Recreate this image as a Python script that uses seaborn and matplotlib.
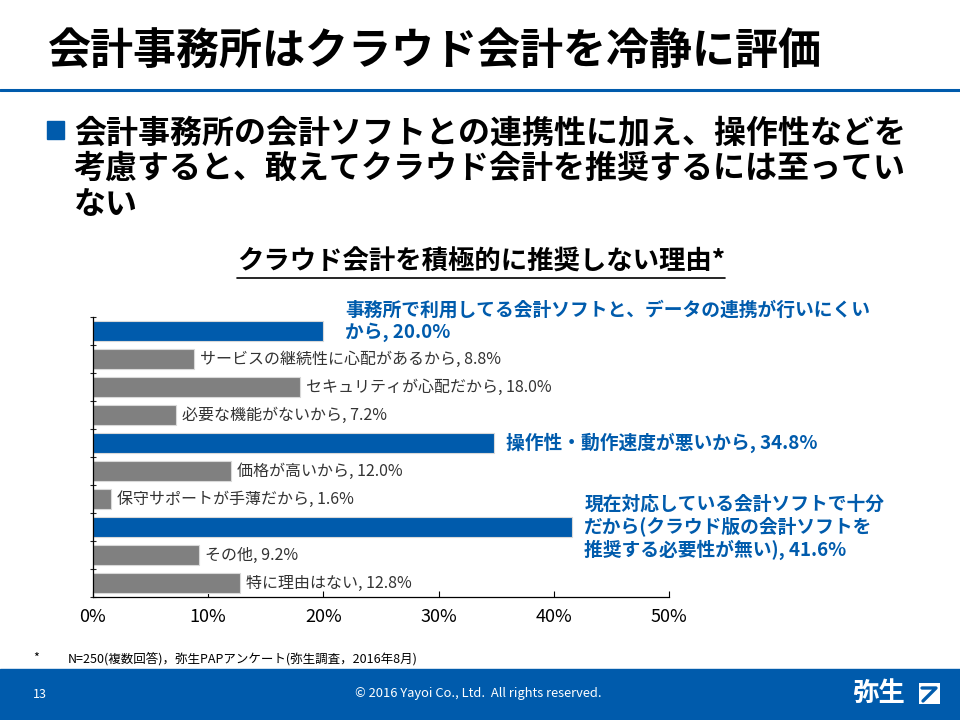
import matplotlib
matplotlib.use("Agg")
import matplotlib.pyplot as plt
from matplotlib.patches import Rectangle
from matplotlib.lines import Line2D
import seaborn as sns
import pandas as pd
import numpy as np

sns.set_theme(style="white")
plt.rcParams['font.family'] = ['Noto Sans CJK JP', 'DejaVu Sans']

BLUE = "#005BAC"
GRAY = "#808080"

title = "会計事務所はクラウド会計を冷静に評価"
bullet_lines = ["会計事務所の会計ソフトとの連携性に加え、操作性などを",
                "考慮すると、敢えてクラウド会計を推奨するには至ってい",
                "ない"]
chart_title = "クラウド会計を積極的に推奨しない理由*"

reasons = [
    "事務所で利用してる会計ソフトと、データの連携が行いにくい\nから",
    "サービスの継続性に心配があるから",
    "セキュリティが心配だから",
    "必要な機能がないから",
    "操作性・動作速度が悪いから",
    "価格が高いから",
    "保守サポートが手薄だから",
    "現在対応している会計ソフトで十分\nだから(クラウド版の会計ソフトを\n推奨する必要性が無い)",
    "その他",
    "特に理由はない",
]
values = [20.0, 8.8, 18.0, 7.2, 34.8, 12.0, 1.6, 41.6, 9.2, 12.8]
highlight = [True, False, False, False, True, False, False, True, False, False]
xticks = [0, 10, 20, 30, 40, 50]

footnote = "N=250(複数回答)，弥生PAPアンケート(弥生調査，2016年8月)"
page_no = "13"
copyright_text = "© 2016 Yayoi Co., Ltd.  All rights reserved."
logo_text = "弥生"

df = pd.DataFrame({
    "reason": reasons,
    "pct": values,
    "group": ["hl" if h else "norm" for h in highlight],
})

fig = plt.figure(figsize=(9.6, 7.2), dpi=100)
fig.patch.set_facecolor("white")

# header
fig.text(48/960, 1 - 52/720, title, fontsize=31, fontweight="bold",
         color="black", va="center", ha="left")
fig.add_artist(Line2D([0, 1], [1 - 90/720, 1 - 90/720], color=BLUE, lw=2.2,
                      transform=fig.transFigure))

# bullet
fig.add_artist(Rectangle((47/960, 1 - 139/720), 17/960, 18/720, color=BLUE,
                         transform=fig.transFigure))
for i, line in enumerate(bullet_lines):
    fig.text(74/960, 1 - (133 + i*36)/720, line, fontsize=23, fontweight="bold",
             color="black", va="center", ha="left")

# chart title
ct = fig.text(481/960, 1 - 262/720, chart_title, fontsize=19, fontweight="bold",
              color="black", va="center", ha="center")

# axes
ax = fig.add_axes([93/960, 1 - 597/720, (669 - 93)/960, (597 - 317)/720])
sns.barplot(data=df, y="reason", x="pct", hue="group",
            palette={"hl": BLUE, "norm": GRAY}, dodge=False, legend=False,
            width=0.7, orient="h", ax=ax, edgecolor="#d9d9d9", linewidth=0.8,
            saturation=1)
ax.set_xlim(0, 50)
ax.set_ylim(9.5, -0.5)
ax.set_xticks(xticks)
ax.set_xticklabels([f"{t}%" for t in xticks], fontsize=13)
ax.set_yticks([])
ax.set_yticks(np.arange(-0.5, 10, 1), minor=True)
ax.tick_params(axis="y", which="minor", length=4, width=0.8, direction="inout", left=True)
ax.tick_params(axis="x", which="major", length=4, width=0.8, direction="in",
               bottom=True, pad=8, colors="black")
ax.set_xlabel("")
ax.set_ylabel("")
for s in ["top", "right"]:
    ax.spines[s].set_visible(False)
for s in ["left", "bottom"]:
    ax.spines[s].set_color("black")
    ax.spines[s].set_linewidth(0.9)
ax.set_facecolor("white")

# labels
for i, (r, v, h) in enumerate(zip(reasons, values, highlight)):
    txt = f"{r}, {v:.1f}%"
    if h:
        dy = 0
        dx = 12
        if i == 0:
            dy = 10
            dx = 22
        ax.annotate(txt, xy=(v, i), xytext=(dx, dy), textcoords="offset pixels",
                    ha="left", va="center", fontsize=13.5, fontweight="bold",
                    color=BLUE, linespacing=1.2)
    else:
        ax.annotate(txt, xy=(v, i), xytext=(6, 0), textcoords="offset pixels",
                    ha="left", va="center", fontsize=11.5, color="#333333")

# footnote
fig.text(33/960, 1 - 658/720, "*", fontsize=9, color="black", va="center")
fig.text(68/960, 1 - 659/720, footnote, fontsize=9, color="black", va="center")

# footer band
fig.add_artist(Rectangle((0, 0), 1, 51/720, color=BLUE, transform=fig.transFigure))
fig.text(33/960, 1 - 694/720, page_no, fontsize=9, color="white", va="center")
fig.text(478/960, 1 - 694/720, copyright_text, fontsize=9.3, color="white",
         va="center", ha="center")
fig.text(852/960, 1 - 693/720, logo_text, fontsize=19, fontweight="bold",
         color="white", va="center", ha="left")
fig.add_artist(Rectangle((919/960, 1 - 704/720), 21/960, 21/720, facecolor="white",
                         edgecolor="none", transform=fig.transFigure))
fig.add_artist(Line2D([922/960, 936/960, 923/960], [1 - 688/720, 1 - 688/720, 1 - 701/720],
                      color=BLUE, lw=2.4, transform=fig.transFigure))

# underline for chart title
fig.canvas.draw()
bb = ct.get_window_extent(renderer=fig.canvas.get_renderer())
W, H = fig.canvas.get_width_height()
yline = (bb.y0 - 2) / H
fig.add_artist(Line2D([bb.x0 / W, bb.x1 / W], [yline, yline], color="black", lw=1.2,
                      transform=fig.transFigure))

fig.savefig("out.png", dpi=100, facecolor="white")
